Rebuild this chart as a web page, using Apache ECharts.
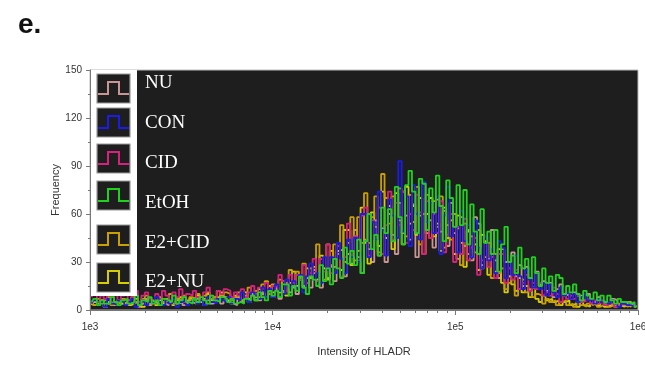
<!DOCTYPE html>
<html>
<head>
<meta charset="utf-8">
<script src="https://cdn.jsdelivr.net/npm/echarts@6/dist/echarts.min.js"></script>
<style>
html,body{margin:0;padding:0;background:#fff;}
#c{width:645px;height:365px;}
</style>
</head>
<body>
<div id="c"></div>
<script>
// ---- data (frequency per log-spaced bin, 1e3..1e6, 160 bins) ----
var seriesNames = ['NU', 'CON', 'CID', 'EtOH', 'E2+CID', 'E2+NU'];
var xTickLabels = ['1e3', '1e4', '1e5', '1e6'];
var yTicks = [0, 30, 60, 90, 120, 150];

var CON = [4,6,3,5,2,7,4,3,6,5, 3,5,7,2,4,6,3,5,4,8, 5,3,6,4,7,2,5,6,3,5, 7,4,6,3,8,5,4,7,6,5,
  8,4,7,6,11,7,5,11,9,7, 14,8,13,8,16,12,10,19,14,18, 14,22,11,21,29,19,23,17,33,25, 33,23,42,32,23,44,33,45,30,60,
  60,33,55,44,74,50,34,69,59,45, 93,49,71,40,78,60,44,80,55,67, 48,71,35,59,77,46,52,36,62,43, 53,33,56,39,26,46,31,38,23,43,
  39,20,30,22,34,21,13,25,19,14, 23,13,17,9,16,11,8,14,9,11, 7,10,5,8,10,6,7,4,7,5, 6,4,6,4,2,4,3,3,2,4];
var NU = [5,3,4,6,2,5,4,3,6,4, 3,6,4,5,2,4,7,3,5,4, 6,4,3,5,7,4,5,3,6,5, 4,7,5,3,6,4,5,8,4,6,
  5,4,3,8,5,8,5,10,8,6, 11,8,11,8,13,7,12,17,11,14, 10,19,15,20,14,25,19,14,26,20, 27,18,37,38,21,35,29,50,33,23,
  44,38,30,56,34,51,30,60,47,35, 67,48,59,44,66,33,59,79,48,56, 39,69,49,62,40,67,48,32,58,40, 50,31,58,54,28,42,32,50,31,20,
  38,30,21,36,21,28,15,27,20,14, 24,16,18,12,17,8,13,16,9,10, 7,11,9,9,6,10,7,4,8,5, 6,4,7,6,3,4,3,5,3,2];
var CID = [8,11,5,9,7,12,4,10,6,9, 10,6,8,12,5,9,11,7,4,10, 7,12,9,6,11,8,13,5,10,9, 12,8,6,11,14,9,7,12,10,13,
  12,8,11,9,13,8,11,15,10,14, 13,17,11,15,14,22,18,12,22,17, 22,19,28,17,23,32,18,32,24,41, 23,32,40,21,33,54,34,46,31,59,
  64,34,56,44,64,35,53,74,44,67, 53,74,42,60,50,72,61,35,68,45, 60,48,68,36,47,60,30,52,35,57, 31,39,45,22,31,46,27,33,20,35,
  35,17,26,19,25,13,17,22,12,17, 13,17,9,11,9,14,10,5,10,7, 9,7,9,5,6,7,4,6,4,6, 3,4,4,2,3,4,3,3,2,4];
var EtOH = [5,7,3,6,4,4,8,5,3,6, 7,4,5,9,3,6,5,8,4,6, 3,7,6,5,9,4,6,8,5,4, 7,5,8,6,4,9,6,5,8,7,
  5,7,4,5,4,7,6,9,6,11, 8,6,12,9,12,8,16,16,9,15, 12,21,14,10,21,19,15,28,18,26, 16,32,26,20,39,29,37,28,44,23,
  43,60,38,47,34,64,48,63,43,77, 58,41,78,87,74,48,82,79,50,76, 61,84,65,43,81,70,52,78,53,75, 41,66,49,35,63,42,49,35,50,24,
  41,52,30,34,23,39,26,32,20,33, 23,15,26,17,21,12,22,20,10,15, 11,16,10,6,12,9,7,11,6,9, 5,9,6,4,7,5,5,4,5,2];
var E2CID = [5,3,7,4,6,8,3,5,4,7, 6,4,8,5,3,7,9,4,6,5, 8,5,6,10,4,7,6,9,5,8, 7,10,6,9,11,7,8,12,9,11,
  10,6,8,11,6,9,14,9,12,8, 16,18,10,16,13,19,11,17,25,15, 24,20,29,17,26,23,41,32,19,41, 28,41,35,53,30,42,58,31,58,42,
  73,42,58,71,36,85,70,54,71,45, 76,74,46,72,55,77,41,60,72,45, 68,52,71,39,53,44,60,51,28,54, 35,46,36,50,26,33,42,20,35,23,
  26,13,17,19,9,13,19,11,13,8, 10,9,4,7,5,6,3,5,6,3, 4,2,5,3,2,4,3,5,2,3, 4,2,3,2,4,3,2,3,2,3];
var E2NU = [3,5,4,6,2,4,5,3,6,4, 5,3,4,7,5,2,6,4,5,3, 6,4,7,5,3,6,8,5,4,7, 6,9,5,7,10,6,8,7,11,8,
  6,4,9,8,6,11,7,10,6,13, 10,8,15,11,14,11,18,9,17,24, 15,19,14,26,20,27,19,34,26,19, 37,27,37,25,50,50,28,46,37,64,
  42,29,61,52,40,74,45,65,38,73, 56,41,77,54,65,47,70,35,60,70, 46,54,37,64,45,56,35,59,42,27, 49,33,41,25,47,43,22,33,24,38,
  17,11,21,16,12,20,11,15,8,14, 7,5,9,6,7,5,6,3,5,6, 3,4,2,5,3,2,4,3,3,5, 2,3,4,2,3,2,3,2,4,2];

var seriesValues = [NU, CON, CID, EtOH, E2CID, E2NU];
var colors = ['#c89494', '#1c1ce8', '#d8207e', '#1ed21e', '#caa000', '#d6cc00'];
var drawOrder = [0, 5, 4, 2, 1, 3];

// bin centres on the log scale (x positions of the bins)
function binCentres(n) {
  var out = [];
  for (var i = 0; i < n; i++) out.push(Math.pow(10, 3 + 3 * (i + 0.5) / n));
  return out;
}
var centres = binCentres(NU.length);

var minorTickValues = [];
[1e3, 1e4, 1e5].forEach(function (d) { for (var k = 2; k <= 9; k++) minorTickValues.push(d * k); });

var series = drawOrder.map(function (si) {
  return {
    name: seriesNames[si],
    type: 'line',
    step: 'middle',
    symbol: 'none',
    xAxisIndex: 0,
    lineStyle: { color: colors[si], width: 1.8 },
    data: seriesValues[si].map(function (v, i) { return [centres[i], v]; }),
    z: 3,
    animation: false
  };
});

// legend graphics (positions in pixels)
var iconTops = [74, 108, 144, 181, 225, 263];
var labelYs = [83, 123, 163, 203, 243, 282];
var graphic = [
  { type: 'text', left: 18, top: 11, style: { text: 'e.', font: 'bold 28px "Liberation Sans", Arial, sans-serif', fill: '#111' } },
  { type: 'rect', shape: { x: 91, y: 70, width: 46, height: 226 }, style: { fill: '#ffffff' }, z: 10 }
];
seriesNames.forEach(function (nm, i) {
  var x = 97, y = iconTops[i], w = 33, h = 29;
  graphic.push({ type: 'rect', shape: { x: x, y: y, width: w, height: h }, style: { fill: '#1e1e1e', stroke: '#9a9a9a', lineWidth: 1.2 }, z: 11 });
  graphic.push({ type: 'polyline', shape: { points: [[x + 1, y + 20], [x + 11, y + 20], [x + 11, y + 8], [x + 22, y + 8], [x + 22, y + 20], [x + w - 1, y + 20]] },
    style: { stroke: colors[i], lineWidth: 2, fill: null }, z: 12 });
  graphic.push({ type: 'text', x: 145, y: labelYs[i], style: { text: nm, font: '19px "Liberation Serif", "Times New Roman", serif', fill: '#ffffff', verticalAlign: 'middle' }, z: 12 });
});

var chart = echarts.init(document.getElementById('c'), null, { renderer: 'canvas' });
chart.setOption({
  animation: false,
  backgroundColor: '#ffffff',
  grid: { left: 90, right: 7, top: 70, bottom: 55, outerBoundsMode: 'none', containLabel: false,
    show: true, backgroundColor: '#1e1e1e', borderColor: '#bbbbbb', borderWidth: 1 },
  xAxis: [{
    type: 'log', logBase: 10, min: 1000, max: 1000000,
    name: 'Intensity of HLADR', nameLocation: 'middle', nameGap: 36,
    nameTextStyle: { fontSize: 11, color: '#333', fontFamily: '"Liberation Sans", Arial, sans-serif' },
    axisLine: { show: true, lineStyle: { color: '#777', width: 1 } },
    axisTick: { show: true, inside: false, length: 5, lineStyle: { color: '#777' } },
    axisLabel: { fontSize: 10, color: '#333', margin: 12, fontFamily: '"Liberation Sans", Arial, sans-serif',
      formatter: function (v) { return xTickLabels[Math.round(Math.log10(v)) - 3]; } },
    splitLine: { show: false }
  }, {
    type: 'log', logBase: 10, min: 1000, max: 1000000, position: 'bottom',
    axisLine: { show: false },
    axisTick: { show: true, length: 3, customValues: minorTickValues, lineStyle: { color: '#777' } },
    axisLabel: { show: false },
    splitLine: { show: false }
  }],
  yAxis: {
    type: 'value', min: 0, max: 150, interval: 30,
    name: 'Frequency', nameLocation: 'middle', nameGap: 29, nameMoveOverlap: false,
    nameTextStyle: { fontSize: 11, color: '#333', fontFamily: '"Liberation Sans", Arial, sans-serif' },
    axisLine: { show: true, lineStyle: { color: '#777' } },
    axisTick: { show: true, length: 4, lineStyle: { color: '#777' } },
    minorTick: { show: true, splitNumber: 2, length: 2, lineStyle: { color: '#777' } },
    axisLabel: { fontSize: 10, color: '#333', margin: 8, fontFamily: '"Liberation Sans", Arial, sans-serif',
      formatter: function (v) { return yTicks.indexOf(v) >= 0 ? String(v) : ''; } },
    splitLine: { show: false }
  },
  graphic: graphic,
  series: series
});
</script>
</body>
</html>
